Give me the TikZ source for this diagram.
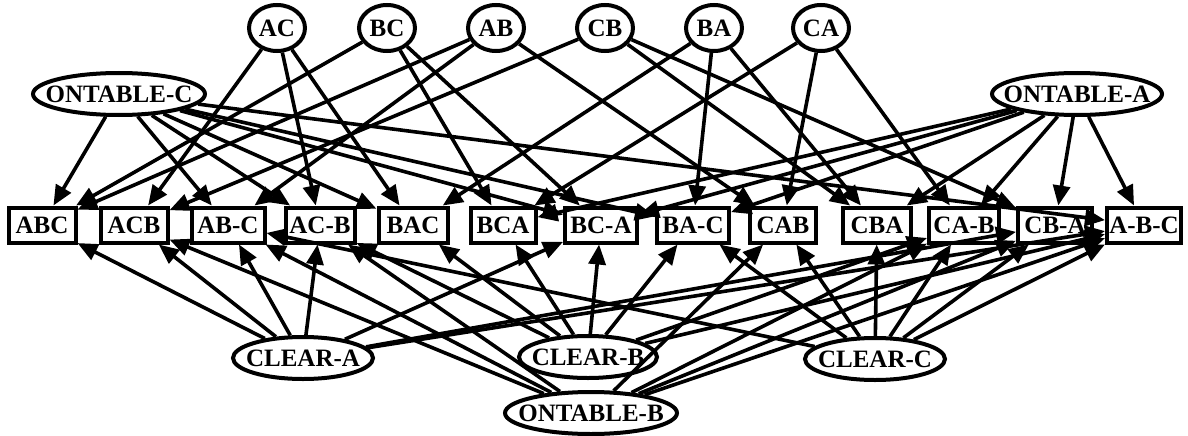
\documentclass[tikz,border=0pt]{standalone}
\usepackage{fontspec}
\setmainfont{Liberation Serif}
\usetikzlibrary{arrows.meta,shapes.geometric}
% zero-width label so the ellipse size comes from its minimum dimensions only
\newcommand\flatlabel[1]{\makebox[0pt]{#1}}
\begin{document}
\begin{tikzpicture}[x=1pt,y=-1pt,
  every node/.style={font=\bfseries\fontsize{25}{25}\selectfont, line width=4pt, inner sep=0pt},
  prop/.style={draw, ellipse, minimum width=#1, minimum height=42pt},
  stackprop/.style={draw, ellipse, minimum width=56pt, minimum height=46pt},
  state/.style={draw, rectangle, minimum width=#1, minimum height=35pt},
  link/.style={line width=3.6pt, -{Triangle[length=20pt,width=17pt]}}]
\useasboundingbox (0,0) rectangle (1188,436);

% "on" propositions along the top
\node[stackprop] (pAC) at (277,28) {\flatlabel{AC}};
\node[stackprop] (pBC) at (387,28) {\flatlabel{BC}};
\node[stackprop] (pAB) at (496,28) {\flatlabel{AB}};
\node[stackprop] (pCB) at (605,28) {\flatlabel{CB}};
\node[stackprop] (pBA) at (714,28) {\flatlabel{BA}};
\node[stackprop] (pCA) at (821,28) {\flatlabel{CA}};

% table propositions
\node[prop=172pt] (onC) at (119,94) {\flatlabel{ONTABLE-C}};
\node[prop=170pt] (onA) at (1077,94) {\flatlabel{ONTABLE-A}};
\node[prop=172pt] (onB) at (591,413) {\flatlabel{ONTABLE-B}};

% clear propositions
\node[prop=140pt] (clA) at (303,358) {\flatlabel{CLEAR-A}};
\node[prop=138pt] (clB) at (588,357) {\flatlabel{CLEAR-B}};
\node[prop=140pt] (clC) at (875,359) {\flatlabel{CLEAR-C}};

% block configurations
\node[state=67pt] (sABC)   at (42,225)   {ABC};
\node[state=67pt] (sACB)   at (134,225)  {ACB};
\node[state=73pt] (sABmC)  at (228,225)  {AB-C};
\node[state=69pt] (sACmB)  at (320,225)  {AC-B};
\node[state=69pt] (sBAC)   at (413,225)  {BAC};
\node[state=65pt] (sBCA)   at (503,225)  {BCA};
\node[state=72pt] (sBCmA)  at (601,225)  {BC-A};
\node[state=72pt] (sBAmC)  at (693,225)  {BA-C};
\node[state=66pt] (sCAB)   at (783,225)  {CAB};
\node[state=68pt] (sCBA)   at (877,225)  {CBA};
\node[state=70pt] (sCAmB)  at (964,225)  {CA-B};
\node[state=74pt] (sCBmA)  at (1055,225) {CB-A};
\node[state=74pt] (sAmBmC) at (1144,225) {A-B-C};

% each proposition points at the configurations where it holds
\foreach \p/\targets in {
  pAC/{sACB,sACmB,sBAC},
  pBC/{sABC,sBCA,sBCmA},
  pAB/{sABC,sABmC,sCAB},
  pCB/{sACB,sCBA,sCBmA},
  pBA/{sBAC,sBAmC,sCBA},
  pCA/{sBCA,sCAB,sCAmB},
  onC/{sABC,sABmC,sACmB,sBAC,sBCmA,sBAmC,sAmBmC},
  onA/{sBCA,sBCmA,sBAmC,sCBA,sCAmB,sCBmA,sAmBmC},
  onB/{sACB,sABmC,sACmB,sCAB,sCAmB,sCBmA,sAmBmC},
  clA/{sABC,sACB,sABmC,sACmB,sBCmA,sCBmA,sAmBmC},
  clB/{sBAC,sBCA,sBCmA,sBAmC,sACmB,sCAmB,sAmBmC},
  clC/{sCAB,sCBA,sCAmB,sCBmA,sABmC,sBAmC,sAmBmC}}
  \foreach \t in \targets
    \draw[link] (\p) -- (\t);
\end{tikzpicture}
\end{document}
